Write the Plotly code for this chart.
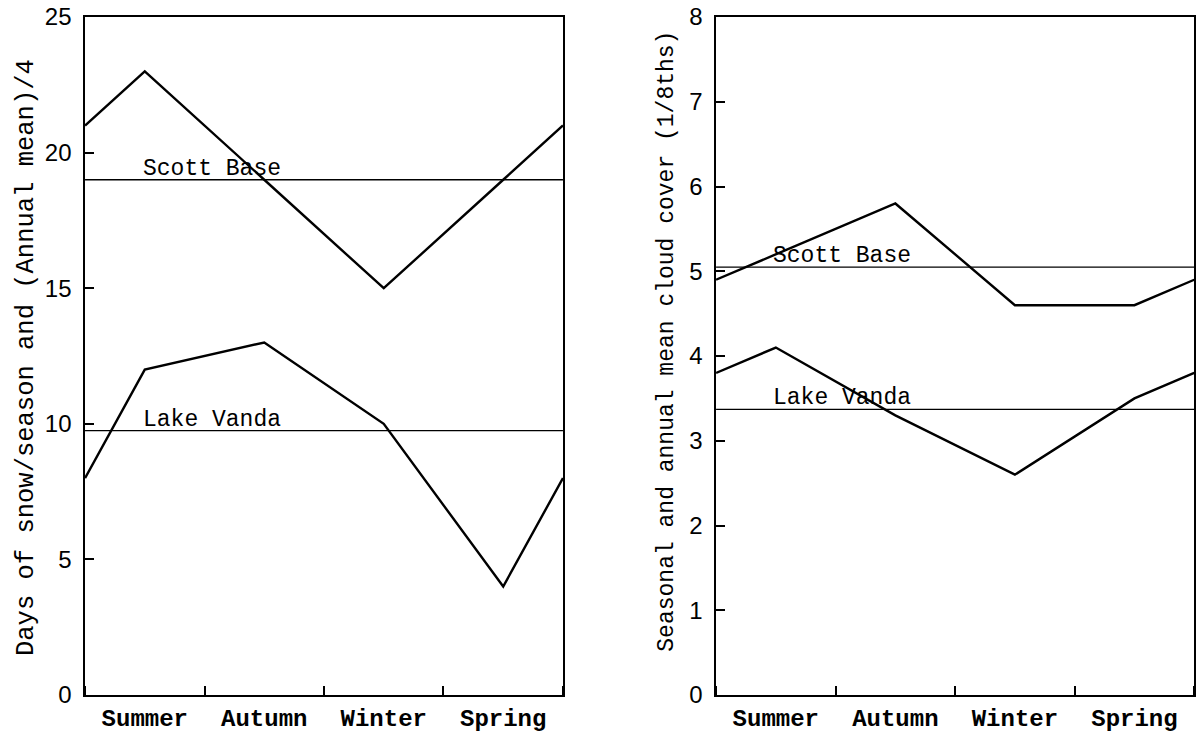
import plotly.graph_objects as go

# Seasons: vertices sit at mid-season (0.5 .. 3.5), with the summer value repeated at both ends
seasons = ["Summer", "Autumn", "Winter", "Spring"]
season_pos = [0.5, 1.5, 2.5, 3.5]
x_pts = [0, 0.5, 1.5, 2.5, 3.5, 4]

# Days of snow per season
snow_scott = [21, 23, 19, 15, 19, 21]
snow_vanda = [8, 12, 13, 10, 4, 8]
snow_scott_mean = 19.0      # annual mean / 4
snow_vanda_mean = 9.75

# Cloud cover (eighths)
cloud_scott = [4.9, 5.2, 5.8, 4.6, 4.6, 4.9]
cloud_vanda = [3.8, 4.1, 3.3, 2.6, 3.5, 3.8]
cloud_scott_mean = 5.05
cloud_vanda_mean = 3.37

MONO = "Liberation Mono, Courier New, monospace"
SANS = "Liberation Sans, Arial, sans-serif"

fig = go.Figure()

def add_panel(xa, ya, scott, vanda, scott_mean, vanda_mean, label_x):
    for vals in (scott, vanda):
        fig.add_trace(go.Scatter(x=x_pts, y=vals, mode="lines",
                                 line=dict(color="black", width=2.4),
                                 xaxis=xa, yaxis=ya, showlegend=False,
                                 hoverinfo="skip"))
    for m, name in ((scott_mean, "Scott Base"), (vanda_mean, "Lake Vanda")):
        fig.add_trace(go.Scatter(x=[x_pts[0], x_pts[-1]], y=[m, m], mode="lines",
                                 line=dict(color="black", width=1.3),
                                 xaxis=xa, yaxis=ya, showlegend=False,
                                 hoverinfo="skip"))
        fig.add_annotation(x=label_x, y=m, xref=xa, yref=ya, text=name,
                           showarrow=False, xanchor="left", yanchor="bottom",
                           yshift=-4,
                           font=dict(family=MONO, size=23, color="black"))

add_panel("x", "y", snow_scott, snow_vanda, snow_scott_mean, snow_vanda_mean, 0.47)
add_panel("x2", "y2", cloud_scott, cloud_vanda, cloud_scott_mean, cloud_vanda_mean, 0.46)

xaxis_common = dict(
    range=[0, 4], showline=True, mirror=True, linecolor="black", linewidth=1.5,
    showgrid=False, zeroline=False, automargin=False,
    tickmode="array", tickvals=season_pos, ticktext=seasons, ticks="",
    tickfont=dict(family=MONO, size=24, color="black", weight="bold"),
    ticklabelstandoff=0,
    minor=dict(tickmode="linear", tick0=0, dtick=1, ticks="inside",
               ticklen=9, tickwidth=1.5, tickcolor="black", showgrid=False),
)
yaxis_common = dict(
    showline=True, mirror=True, linecolor="black", linewidth=1.5,
    showgrid=False, zeroline=False, automargin=False,
    ticks="inside", ticklen=9, tickwidth=1.5,
    tickcolor="black", tickfont=dict(family=SANS, size=24, color="black"),
    ticklabelstandoff=7,
)

fig.update_layout(
    width=1196, height=734,
    margin=dict(l=0, r=0, t=0, b=0),
    paper_bgcolor="white", plot_bgcolor="white",
    xaxis=dict(domain=[0.0711, 0.4707], anchor="y", **xaxis_common),
    yaxis=dict(domain=[0.0531, 0.9768], anchor="x", range=[0, 25],
               tickvals=[0, 5, 10, 15, 20, 25], **yaxis_common),
    xaxis2=dict(domain=[0.5987, 0.9985], anchor="y2", **xaxis_common),
    yaxis2=dict(domain=[0.0531, 0.9768], anchor="x2", range=[0, 8],
                tickvals=list(range(0, 9)), **yaxis_common),
)

fig.add_annotation(x=0.0084, y=0.513, xref="paper", yref="paper",
                   text="Days of snow/season and (Annual mean)/4",
                   textangle=-90, showarrow=False,
                   font=dict(family=MONO, size=25.5, color="black"))
fig.add_annotation(x=0.558, y=0.535, xref="paper", yref="paper",
                   text="Seasonal and annual mean cloud cover (1/8ths)",
                   textangle=-90, showarrow=False,
                   font=dict(family=MONO, size=23, color="black"))

fig.write_html("out.html")
